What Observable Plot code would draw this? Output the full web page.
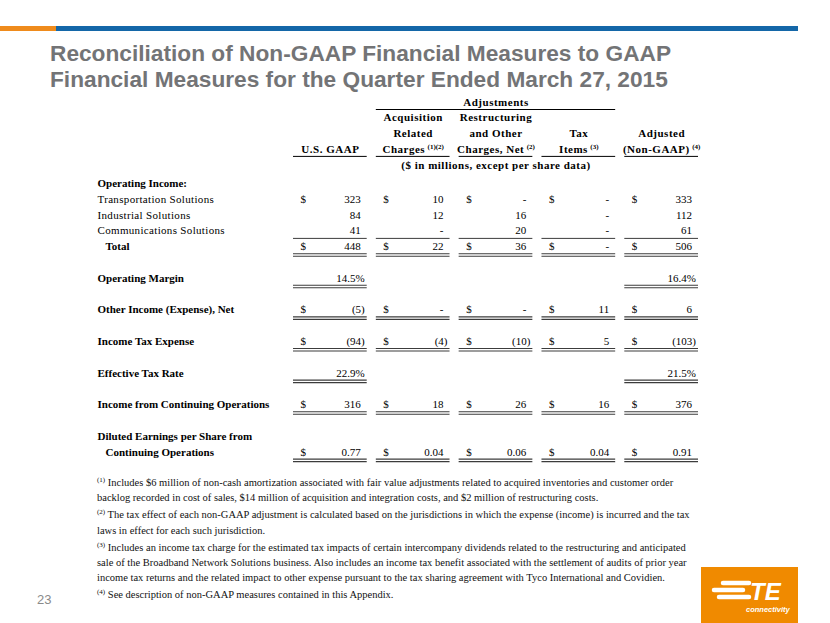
<!DOCTYPE html>
<html><head><meta charset="utf-8">
<script src="https://cdn.jsdelivr.net/npm/d3@7"></script>
<script src="https://cdn.jsdelivr.net/npm/@observablehq/plot@0.6"></script>
<style>
html,body{margin:0;padding:0;background:#fff;}
#slide{position:relative;width:830px;height:623px;overflow:hidden;background:#fff;}
#bar-o{position:absolute;left:0;top:26px;width:56px;height:5px;background:#ef8b1c;}
#bar-b{position:absolute;left:56px;top:26px;width:742px;height:5px;background:#1467a8;}
#title{position:absolute;left:50px;top:40px;font:bold 22.7px "Liberation Sans",Arial,sans-serif;line-height:26px;color:#737476;white-space:nowrap;}
#plot{position:absolute;left:0;top:0;}
#notes{position:absolute;left:97px;top:475px;font:10.5px "Liberation Serif","Times New Roman",serif;line-height:15.3px;color:#111;white-space:nowrap;}
#notes p{margin:0 0 1.8px 0;}
#notes sup{font-size:7px;vertical-align:4px;line-height:0;}
#pgnum{position:absolute;left:37px;top:592px;font:13px "Liberation Sans",Arial,sans-serif;color:#8a8a8a;}
#logo{position:absolute;left:701px;top:567px;}
</style></head><body>
<div id="slide">
  <div id="bar-o"></div><div id="bar-b"></div>
  <div id="title">Reconciliation of Non-GAAP Financial Measures to GAAP<br>Financial Measures for the Quarter Ended March 27, 2015</div>
  <div id="plot"></div>
  <div id="notes">
    <p><sup>(1)</sup> Includes $6 million of non-cash amortization associated with fair value adjustments related to acquired inventories and customer order<br>backlog recorded in cost of sales, $14 million of acquisition and integration costs, and $2 million of restructuring costs.</p>
    <p><sup>(2)</sup> The tax effect of each non-GAAP adjustment is calculated based on the jurisdictions in which the expense (income) is incurred and the tax<br>laws in effect for each such jurisdiction.</p>
    <p><sup>(3)</sup> Includes an income tax charge for the estimated tax impacts of certain intercompany dividends related to the restructuring and anticipated<br>sale of the Broadband Network Solutions business. Also includes an income tax benefit associated with the settlement of audits of prior year<br>income tax returns and the related impact to other expense pursuant to the tax sharing agreement with Tyco International and Covidien.</p>
    <p><sup>(4)</sup> See description of non-GAAP measures contained in this Appendix.</p>
  </div>
  <div id="pgnum">23</div>
  <svg id="logo" width="97" height="56" viewBox="0 0 97 56">
    <rect x="0" y="0" width="97" height="56" fill="#f08a00"/>
    <g stroke="#fff" stroke-width="4.5" stroke-linecap="round">
      <line x1="22" y1="16" x2="48" y2="16"/>
      <line x1="13" y1="23" x2="42" y2="23"/>
      <line x1="18" y1="30" x2="48" y2="30"/>
    </g>
    <text x="49" y="33" fill="#fff" font-family="Liberation Sans,Arial,sans-serif" font-weight="bold" font-style="italic" font-size="24">TE</text>
    <text x="45" y="45" fill="#fff" font-family="Liberation Sans,Arial,sans-serif" font-style="italic" font-weight="bold" font-size="7.5">connectivity</text>
  </svg>
</div>
<script>
// ---- columns ----
const columnKeys = ["U.S. GAAP", "Acquisition Related Charges", "Restructuring and Other Charges, Net", "Tax Items", "Adjusted (Non-GAAP)"];

// ---- row labels ----
const rowLabels = ["Operating Income:", "Transportation Solutions", "Industrial Solutions", "Communications Solutions", "Total",
  "Operating Margin", "Other Income (Expense), Net", "Income Tax Expense", "Effective Tax Rate",
  "Income from Continuing Operations", "Diluted Earnings per Share from", "Continuing Operations"];

// ---- values ($ in millions, except per share data) ----
const transportationSolutions = [323, 10, 0, 0, 333];
const industrialSolutions = [84, 12, 16, 0, 112];
const communicationsSolutions = [41, 0, 20, 0, 61];
const totalOperatingIncome = [448, 22, 36, 0, 506];
const operatingMargin = [14.5, null, null, null, 16.4];
const otherIncomeNet = [-5, 0, 0, 11, 6];
const incomeTaxExpense = [-94, -4, -10, 5, -103];
const effectiveTaxRate = [22.9, null, null, null, 21.5];
const incomeContinuingOps = [316, 18, 26, 16, 376];
const dilutedEPS = [0.77, 0.04, 0.06, 0.04, 0.91];

// ---- header texts: [column, header line, text, footnote marks] ----
const headerTexts = [
  ["Restructuring and Other Charges, Net", "hdr0", "Adjustments", ""],
  ["Acquisition Related Charges", "hdr1", "Acquisition", ""],
  ["Acquisition Related Charges", "hdr2", "Related", ""],
  ["Acquisition Related Charges", "hdr3", "Charges", "(1)(2)"],
  ["Restructuring and Other Charges, Net", "hdr1", "Restructuring", ""],
  ["Restructuring and Other Charges, Net", "hdr2", "and Other", ""],
  ["Restructuring and Other Charges, Net", "hdr3", "Charges, Net", "(2)"],
  ["Tax Items", "hdr2", "Tax", ""],
  ["Tax Items", "hdr3", "Items", "(3)"],
  ["Adjusted (Non-GAAP)", "hdr2", "Adjusted", ""],
  ["Adjusted (Non-GAAP)", "hdr3", "(Non-GAAP)", "(4)"],
  ["U.S. GAAP", "hdr3", "U.S. GAAP", ""],
  ["Restructuring and Other Charges, Net", "hdr4", "($ in millions, except per share data)", ""]
].map(([col, row, text, sup]) => ({col, row, text, sup}));

// ---- table structure built from the arrays ----
const bodyRows = [
  {key: rowLabels[1], values: transportationSolutions, fmt: "int", dollar: true},
  {key: rowLabels[2], values: industrialSolutions, fmt: "int"},
  {key: rowLabels[3], values: communicationsSolutions, fmt: "int", rule: "single"},
  {key: rowLabels[4], values: totalOperatingIncome, fmt: "int", dollar: true, rule: "double"},
  {key: rowLabels[5], values: operatingMargin, fmt: "pct", rule: "double"},
  {key: rowLabels[6], values: otherIncomeNet, fmt: "int", dollar: true, rule: "double"},
  {key: rowLabels[7], values: incomeTaxExpense, fmt: "int", dollar: true, rule: "double"},
  {key: rowLabels[8], values: effectiveTaxRate, fmt: "pct", rule: "double"},
  {key: rowLabels[9], values: incomeContinuingOps, fmt: "int", dollar: true, rule: "double"},
  {key: rowLabels[11], values: dilutedEPS, fmt: "eps", dollar: true, rule: "double"}
];
const regularLabels = new Set(rowLabels.slice(1, 4));
const indentLabels = new Set([rowLabels[4], rowLabels[11]]);

const rowOrder = ["hdr0", "hdr1", "hdr2", "hdr3", "hdr4",
  rowLabels[0], rowLabels[1], rowLabels[2], rowLabels[3], rowLabels[4], "gap1",
  rowLabels[5], "gap2", rowLabels[6], "gap3", rowLabels[7], "gap4", rowLabels[8], "gap5",
  rowLabels[9], "gap6", rowLabels[10], rowLabels[11]];

function fmt(v, kind) {
  if (kind === "pct") return v.toFixed(1) + "%";
  if (kind === "eps") return v.toFixed(2);
  if (v === 0) return "-";
  return v < 0 ? `(${-v})` : String(v);
}

const cells = [], dollars = [], singles = [], doubles = [];
for (const r of bodyRows) {
  r.values.forEach((v, i) => {
    if (v == null) return;
    const col = columnKeys[i];
    cells.push({row: r.key, col, text: fmt(v, r.fmt), hang: v < 0 || r.fmt === "pct"});
    if (r.dollar) dollars.push({row: r.key, col});
    if (r.rule === "single") singles.push({row: r.key, col});
    if (r.rule === "double") doubles.push({row: r.key, col});
  });
}

const W = 830, H = 623;
const xRange = [293, 698], padIn = 0.11;
const bw = (xRange[1] - xRange[0]) / (columnKeys.length - padIn) * (1 - padIn);

const serif = "Liberation Serif, Times New Roman, serif";
const lineColor = "#3c3c3c";

const chart = Plot.plot({
  width: W, height: H,
  marginLeft: 97, marginTop: 0, marginRight: 0, marginBottom: 0,
  style: {fontFamily: serif, fontSize: "11px", color: "#000", background: "transparent"},
  x: {type: "band", domain: columnKeys, range: xRange, paddingInner: padIn, paddingOuter: 0, round: false, axis: null},
  y: {type: "point", domain: rowOrder, range: [104, 451.6], padding: 0, round: false, axis: null},
  marks: [
    // header
    Plot.text(headerTexts, {x: "col", y: "row", text: "text", fontWeight: "bold", fontSize: 11, dy: -2.5, fill: "#000"}),
    Plot.ruleY(["hdr0"], {y: d => d, x1: () => columnKeys[1], x2: () => columnKeys[3], dy: 5, stroke: "#000", strokeWidth: 1}),
    Plot.tickY(columnKeys, {x: d => d, y: () => "hdr3", dy: 4.5, stroke: "#000", strokeWidth: 1}),
    // row labels
    Plot.text(rowLabels.filter(l => regularLabels.has(l)), {y: d => d, text: d => d, frameAnchor: "left", textAnchor: "start", fill: "#000"}),
    Plot.text(rowLabels.filter(l => !regularLabels.has(l) && !indentLabels.has(l)), {y: d => d, text: d => d, frameAnchor: "left", textAnchor: "start", fontWeight: "bold", fill: "#000"}),
    Plot.text(rowLabels.filter(l => indentLabels.has(l)), {y: d => d, text: d => d, frameAnchor: "left", textAnchor: "start", fontWeight: "bold", dx: 8, fill: "#000"}),
    // $ signs
    Plot.text(dollars, {x: "col", y: "row", text: () => "$", textAnchor: "start", dx: -bw / 2 + 7, fill: "#000"}),
    // values
    Plot.text(cells.filter(d => !d.hang), {x: "col", y: "row", text: "text", textAnchor: "end", dx: bw / 2 - 6.5, fill: "#000"}),
    Plot.text(cells.filter(d => d.hang), {x: "col", y: "row", text: "text", textAnchor: "end", dx: bw / 2 - 2.5, fill: "#000"}),
    // underlines
    Plot.tickY(singles, {x: "col", y: "row", dy: 7.5, stroke: lineColor, strokeWidth: 1}),
    Plot.tickY(doubles, {x: "col", y: "row", dy: 7, stroke: lineColor, strokeWidth: 1.1}),
    Plot.tickY(doubles, {x: "col", y: "row", dy: 9.5, stroke: lineColor, strokeWidth: 1.1})
  ]
});

// typographic touches: letter-spacing on header and plain labels, superscript footnote marks
const supByText = new Map(headerTexts.filter(d => d.sup).map(d => [d.text, d.sup]));
const headerSet = new Set(headerTexts.map(d => d.text));
d3.select(chart).selectAll("text").each(function () {
  const t = this.textContent;
  if (headerSet.has(t)) {
    this.style.letterSpacing = "0.5px";
    if (supByText.has(t)) {
      const ts = document.createElementNS("http://www.w3.org/2000/svg", "tspan");
      ts.setAttribute("font-size", "7");
      ts.setAttribute("dx", "2.5");
      ts.setAttribute("baseline-shift", "4");
      ts.style.letterSpacing = "0px";
      ts.textContent = supByText.get(t);
      this.appendChild(ts);
    }
  } else if (regularLabels.has(t)) {
    this.style.letterSpacing = "0.33px";
  }
});
document.getElementById("plot").appendChild(chart);
</script>
</body></html>
